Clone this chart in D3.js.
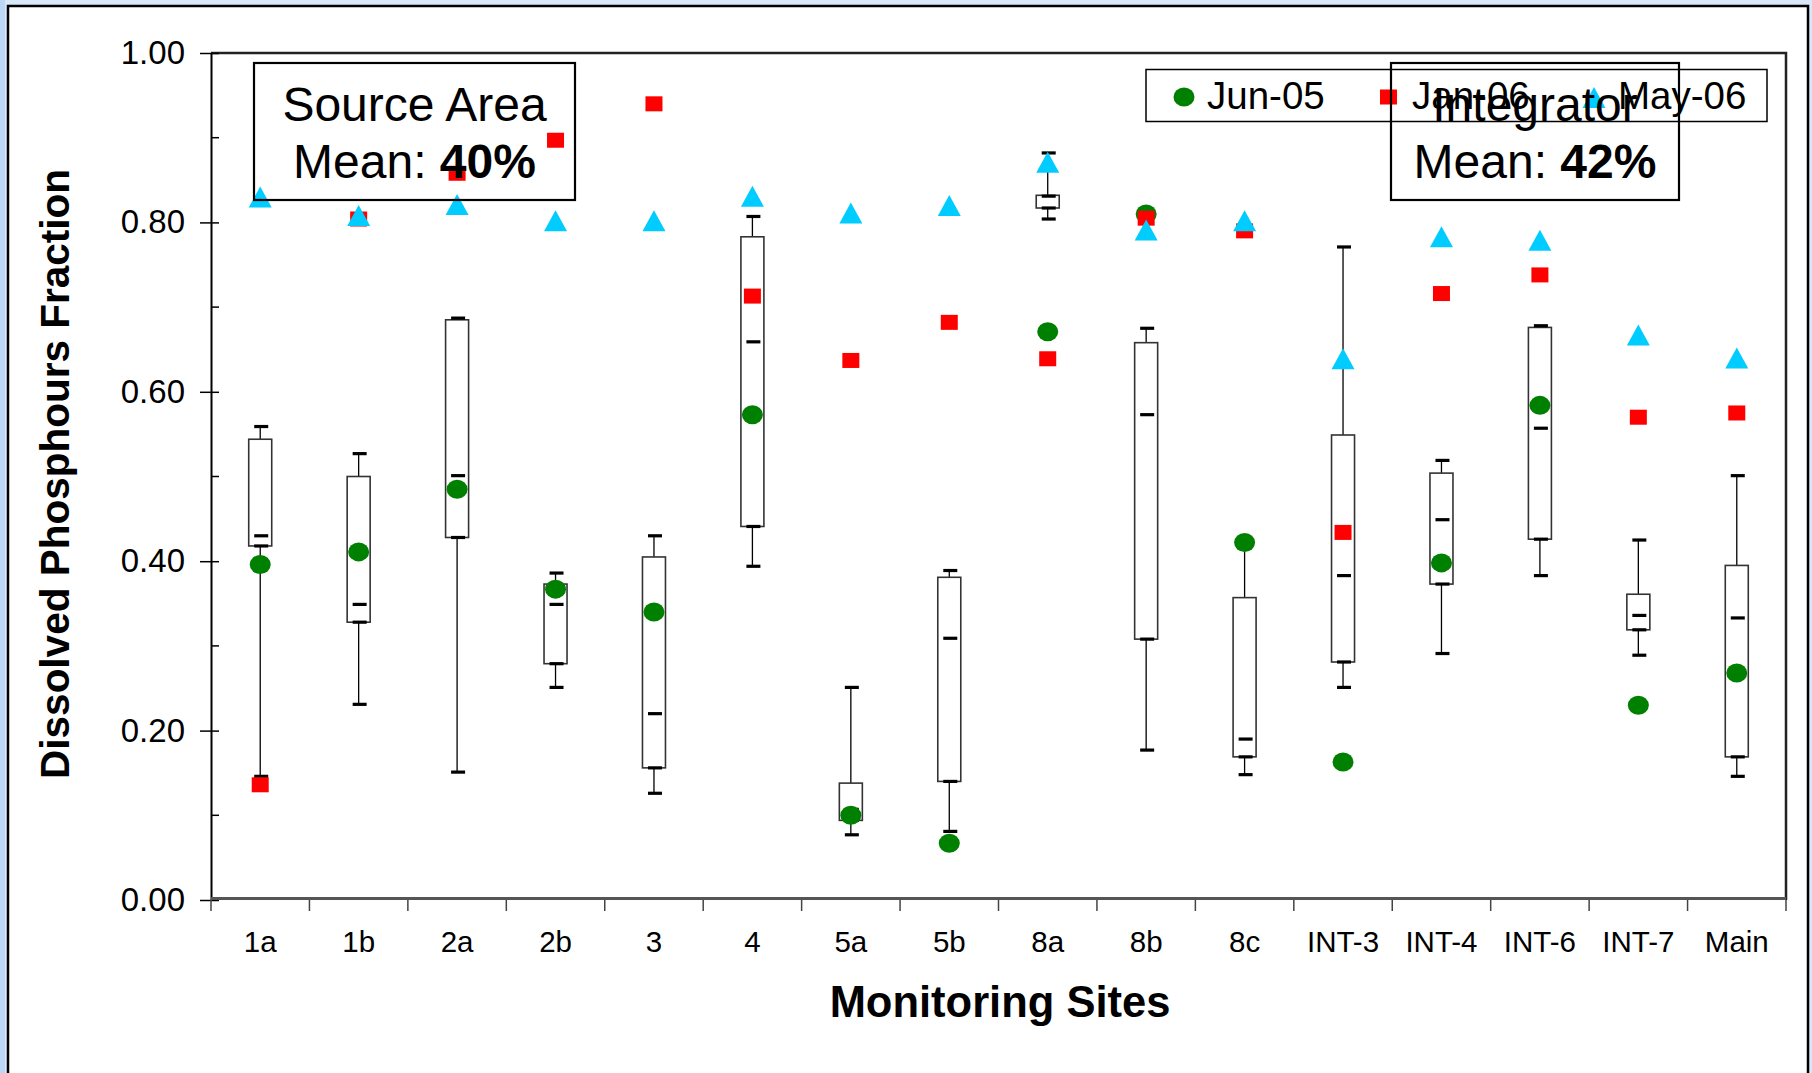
<!DOCTYPE html>
<html>
<head>
<meta charset="utf-8">
<script src="https://cdn.jsdelivr.net/npm/d3@7"></script>
<style>
  html, body { margin: 0; padding: 0; background: #d8e7fa; }
  svg { display: block; font-family: "Liberation Sans", Arial, sans-serif; }
</style>
</head>
<body>
<svg id="chart" width="1812" height="1073"></svg>
<script>
// ---------- data ----------
const sites = ["1a","1b","2a","2b","3","4","5a","5b","8a","8b","8c","INT-3","INT-4","INT-6","INT-7","Main"];
const jun05 = [0.396, 0.411, 0.485, 0.367, 0.340, 0.573, 0.100, 0.067, 0.671, 0.810, 0.422, 0.163, 0.398, 0.584, 0.230, 0.268];
const jan06 = [0.136, 0.804, 0.858, 0.897, 0.940, 0.713, 0.637, 0.682, 0.639, 0.805, 0.790, 0.434, 0.716, 0.738, 0.570, 0.575];
const may06 = [0.830, 0.808, 0.821, 0.802, 0.802, 0.831, 0.811, 0.820, 0.871, 0.791, 0.802, 0.639, 0.783, 0.779, 0.667, 0.640];
const whiskerLow  = [0.146, 0.231, 0.151, 0.251, 0.126, 0.394, 0.077, 0.081, 0.804, 0.177, 0.148, 0.251, 0.291, 0.383, 0.289, 0.146];
const quart1      = [0.418, 0.328, 0.428, 0.279, 0.156, 0.441, 0.094, 0.140, 0.817, 0.308, 0.169, 0.281, 0.373, 0.426, 0.319, 0.169];
const median      = [0.430, 0.349, 0.501, 0.349, 0.220, 0.659, 0.107, 0.309, 0.831, 0.573, 0.190, 0.383, 0.449, 0.557, 0.336, 0.333];
const quart3      = [0.544, 0.500, 0.685, 0.373, 0.405, 0.783, 0.138, 0.381, 0.832, 0.658, 0.357, 0.549, 0.504, 0.676, 0.361, 0.395];
const whiskerHigh = [0.559, 0.527, 0.687, 0.386, 0.430, 0.807, 0.251, 0.389, 0.882, 0.675, 0.422, 0.771, 0.519, 0.678, 0.425, 0.501];
const yTicks = [0, 0.2, 0.4, 0.6, 0.8, 1.0];
const yMinorTicks = [0.1, 0.3, 0.5, 0.7, 0.9];
const seriesNames = ["Jun-05", "Jan-06", "May-06"];
const yTitle = "Dissolved Phosphours Fraction";
const xTitle = "Monitoring Sites";

// ---------- layout ----------
const W = 1812, H = 1073;
const L = 211, R = 1786, T = 53, B = 900;
const svg = d3.select("#chart");

const x = d3.scaleBand().domain(sites).range([L, R]).paddingInner(0).paddingOuter(0);
const y = d3.scaleLinear().domain([0, 1]).range([B, T]);
const cx = s => x(s) + x.bandwidth() / 2;

// background panel
svg.append("rect").attr("x", 0).attr("y", 0).attr("width", W).attr("height", H).attr("fill", "#d8e7fa");
svg.append("rect").attr("x", 0).attr("y", 0).attr("width", 5).attr("height", H).attr("fill", "#bcd6f5");
svg.append("rect").attr("x", 8).attr("y", 6).attr("width", 1800).attr("height", 1090)
  .attr("fill", "#ffffff").attr("stroke", "#000").attr("stroke-width", 2.5);

// plot area border (top & right)
svg.append("path").attr("d", `M${L},${T}H${R}V${B}`).attr("fill", "none")
  .attr("stroke", "#222").attr("stroke-width", 2.5);

// y axis
const yAxis = d3.axisLeft(y).tickValues(yTicks).tickFormat(d3.format(".2f"))
  .tickSizeInner(11).tickSizeOuter(0).tickPadding(15);
const gy = svg.append("g").attr("transform", `translate(${L},0)`).call(yAxis);
gy.select(".domain").attr("stroke", "#000").attr("stroke-width", 2);
gy.selectAll(".tick line").attr("stroke", "#000").attr("stroke-width", 1.5).attr("x2", -11);
gy.selectAll(".tick").append("line").attr("x1", 0).attr("x2", 8).attr("stroke", "#000").attr("stroke-width", 1.5);
gy.selectAll(".tick text").attr("font-size", 33).attr("fill", "#000")
  .attr("font-family", "Liberation Sans, Arial, sans-serif");
svg.append("g").selectAll("line").data(yMinorTicks).join("line")
  .attr("x1", L).attr("x2", L + 8).attr("y1", d => y(d)).attr("y2", d => y(d))
  .attr("stroke", "#000").attr("stroke-width", 1.5);

// x axis
const xAxis = d3.axisBottom(x).tickSize(0).tickPadding(31);
const gx = svg.append("g").attr("transform", `translate(0,${B})`).call(xAxis);
gx.select(".domain").remove();
gx.selectAll(".tick text").attr("font-size", 29.5).attr("fill", "#000")
  .attr("font-family", "Liberation Sans, Arial, sans-serif");
svg.append("line").attr("x1", L).attr("x2", R).attr("y1", B - 1.5).attr("y2", B - 1.5)
  .attr("stroke", "#555").attr("stroke-width", 3);
const boundaries = sites.map(s => x(s)).concat([R]);
svg.append("g").selectAll("line").data(boundaries).join("line")
  .attr("x1", d => d).attr("x2", d => d).attr("y1", B).attr("y2", B + 11)
  .attr("stroke", "#444").attr("stroke-width", 1.5);

// ---------- box plots ----------
const boxW = 23, dashW = 14;
const gBox = svg.append("g");
sites.forEach((s, i) => {
  const c = cx(s);
  gBox.append("line").attr("x1", c).attr("x2", c).attr("y1", y(whiskerLow[i])).attr("y2", y(quart1[i]))
    .attr("stroke", "#000").attr("stroke-width", 1.3);
  gBox.append("line").attr("x1", c).attr("x2", c).attr("y1", y(quart3[i])).attr("y2", y(whiskerHigh[i]))
    .attr("stroke", "#000").attr("stroke-width", 1.3);
  gBox.append("rect").attr("x", c - boxW / 2).attr("y", y(quart3[i]))
    .attr("width", boxW).attr("height", Math.max(1, y(quart1[i]) - y(quart3[i])))
    .attr("fill", "#fff").attr("stroke", "#333").attr("stroke-width", 1.6);
  [whiskerLow[i], quart1[i], median[i], whiskerHigh[i]].forEach(v => {
    gBox.append("line").attr("x1", c - dashW / 2 + 1).attr("x2", c + dashW / 2 + 1)
      .attr("y1", y(v)).attr("y2", y(v)).attr("stroke", "#000").attr("stroke-width", 3.2);
  });
});

// ---------- markers ----------
const green = "#008000", red = "#ff0000", cyan = "#00ccff";
const triPath = (w, h) => `M0,${-h/2}L${w/2},${h/2}L${-w/2},${h/2}Z`;
svg.append("g").selectAll("ellipse").data(sites).join("ellipse")
  .attr("cx", d => cx(d)).attr("cy", (d, i) => y(jun05[i])).attr("rx", 10.5).attr("ry", 9.5).attr("fill", green);
svg.append("g").selectAll("rect").data(sites).join("rect")
  .attr("x", d => cx(d) - 8.5).attr("y", (d, i) => y(jan06[i]) - 7.5).attr("width", 17).attr("height", 15).attr("fill", red);
svg.append("g").selectAll("path").data(sites).join("path")
  .attr("transform", (d, i) => `translate(${cx(d)},${y(may06[i])})`).attr("d", triPath(23, 21)).attr("fill", cyan);

// ---------- legend ----------
const lg = svg.append("g");
lg.append("rect").attr("x", 1146).attr("y", 69.5).attr("width", 621).attr("height", 52)
  .attr("fill", "none").attr("stroke", "#000").attr("stroke-width", 1.5);
lg.append("ellipse").attr("cx", 1184).attr("cy", 97).attr("rx", 10.5).attr("ry", 9.5).attr("fill", green);
lg.append("rect").attr("x", 1380).attr("y", 89.5).attr("width", 17).attr("height", 15).attr("fill", red);
lg.append("path").attr("transform", "translate(1594,97.5)").attr("d", triPath(23, 21)).attr("fill", cyan);
const legX = [1207, 1412, 1618];
lg.selectAll("text").data(seriesNames).join("text")
  .attr("x", (d, i) => legX[i]).attr("y", 109).attr("font-size", 38.5).attr("fill", "#000").text(d => d);

// ---------- annotation boxes ----------
function annot(x0, w, line1, pct) {
  const g = svg.append("g");
  g.append("rect").attr("x", x0).attr("y", 63).attr("width", w).attr("height", 137)
    .attr("fill", "none").attr("stroke", "#000").attr("stroke-width", 2.2);
  g.append("text").attr("x", x0 + w / 2).attr("y", 121).attr("text-anchor", "middle")
    .attr("font-size", 48).attr("fill", "#000").text(line1);
  const t = g.append("text").attr("x", x0 + w / 2).attr("y", 178).attr("text-anchor", "middle")
    .attr("font-size", 48).attr("fill", "#000");
  t.append("tspan").text("Mean: ");
  t.append("tspan").attr("font-weight", "bold").text(pct);
}
annot(254, 321, "Source Area", "40%");
annot(1391, 288, "Integrator", "42%");

// ---------- axis titles ----------
svg.append("text").attr("transform", "translate(69,474) rotate(-90)").attr("text-anchor", "middle")
  .attr("font-size", 40.5).attr("font-weight", "bold").attr("fill", "#000").text(yTitle);
svg.append("text").attr("x", 1000).attr("y", 1017).attr("text-anchor", "middle")
  .attr("font-size", 43.5).attr("font-weight", "bold").attr("fill", "#000").text(xTitle);
</script>
</body>
</html>
